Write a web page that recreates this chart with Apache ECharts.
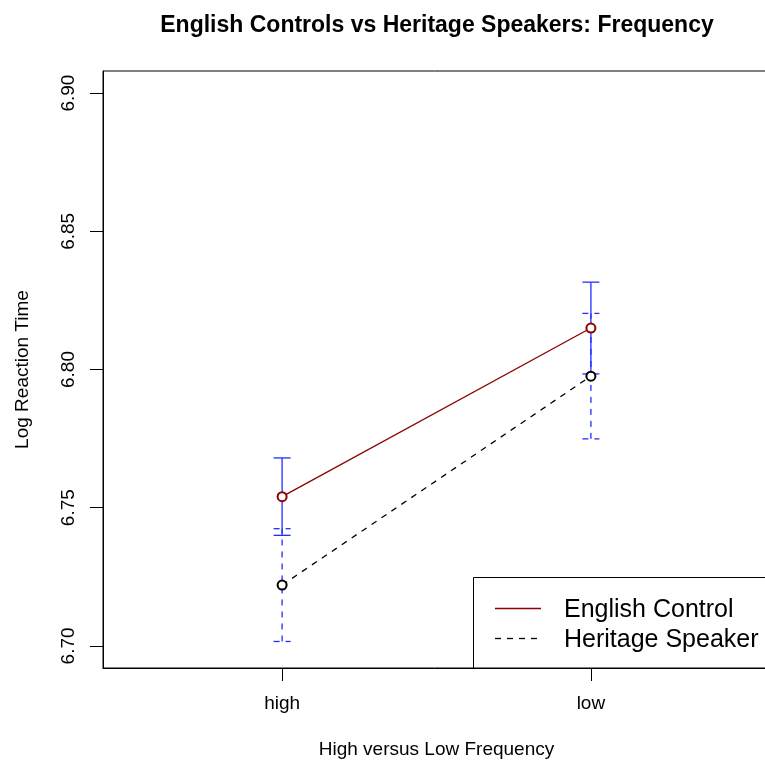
<!DOCTYPE html>
<html>
<head>
<meta charset="utf-8">
<script src="https://cdn.jsdelivr.net/npm/echarts@6/dist/echarts.min.js"></script>
<style>
html,body{margin:0;padding:0;background:#fff;}
#chart{width:765px;height:761px;}
</style>
</head>
<body>
<div id="chart"></div>
<script>
const categories = ['high', 'low'];
const xPositions = [1, 2];
const seriesNames = ['English Control', 'Heritage Speaker'];
const englishMean = [6.754, 6.815];
const englishLower = [6.740, 6.7984];
const englishUpper = [6.768, 6.8316];
const heritageMean = [6.722, 6.7976];
const heritageLower = [6.7016, 6.7749];
const heritageUpper = [6.7424, 6.8203];
const yTicks = [6.70, 6.75, 6.80, 6.85, 6.90];

const FONT = '"Liberation Sans", Arial, Helvetica, sans-serif';
const chart = echarts.init(document.getElementById('chart'), null, {renderer: 'canvas'});

function pairs(xs, ys) { return xs.map((x, i) => [x, ys[i]]); }
function errData(lo, hi) { return xPositions.map((x, i) => [x, lo[i], hi[i]]); }

function errRender(dash) {
  return function (params, api) {
    const x = api.value(0);
    const pLo = api.coord([x, api.value(1)]);
    const pHi = api.coord([x, api.value(2)]);
    const hw = 8.5;
    const style = {stroke: '#1f2fff', lineWidth: 1.3, lineDash: dash};
    return {
      type: 'group',
      children: [
        {type: 'line', shape: {x1: pLo[0], y1: pLo[1], x2: pHi[0], y2: pHi[1]}, style: style},
        {type: 'line', shape: {x1: pHi[0] - hw, y1: pHi[1], x2: pHi[0] + hw, y2: pHi[1]}, style: style},
        {type: 'line', shape: {x1: pLo[0] - hw, y1: pLo[1], x2: pLo[0] + hw, y2: pLo[1]}, style: style}
      ]
    };
  };
}

const option = {
  animation: false,
  backgroundColor: '#fff',
  title: {
    text: 'English Controls vs Heritage Speakers: Frequency',
    left: 432,
    textAlign: 'center',
    top: 9,
    textStyle: {fontFamily: FONT, fontWeight: 'bold', fontSize: 23, color: '#000'}
  },
  grid: {
    left: 103, top: 71, width: 667, height: 597,
    outerBoundsMode: 'none',
    containLabel: false,
    show: true, borderColor: '#000', borderWidth: 1, backgroundColor: 'transparent'
  },
  xAxis: {
    type: 'value',
    min: 0.42, max: 2.58,
    name: 'High versus Low Frequency',
    nameLocation: 'middle',
    nameGap: 72,
    nameTextStyle: {fontFamily: FONT, fontSize: 19, color: '#000'},
    axisLine: {show: true, onZero: false, lineStyle: {color: '#000', width: 1}},
    axisTick: {show: true, inside: false, length: 13, customValues: xPositions, lineStyle: {color: '#000'}},
    axisLabel: {
      show: true, customValues: xPositions, margin: 26,
      fontFamily: FONT, fontSize: 19, color: '#000',
      formatter: function (v) { const i = xPositions.indexOf(Math.round(v)); return i >= 0 ? categories[i] : ''; }
    },
    splitLine: {show: false}
  },
  yAxis: {
    type: 'value',
    min: 6.692, max: 6.908,
    name: 'Log Reaction Time',
    nameLocation: 'middle',
    nameGap: 71,
    nameRotate: 90,
    nameTextStyle: {fontFamily: FONT, fontSize: 19, color: '#000'},
    axisLine: {show: true, onZero: false, lineStyle: {color: '#000', width: 1}},
    axisTick: {show: true, inside: false, length: 13, customValues: yTicks, lineStyle: {color: '#000'}},
    axisLabel: {
      show: true, customValues: yTicks, rotate: 90, margin: 25,
      fontFamily: FONT, fontSize: 19, color: '#000',
      formatter: function (v) { return v.toFixed(2); }
    },
    splitLine: {show: false}
  },
  series: [
    {
      name: seriesNames[0],
      type: 'line',
      data: pairs(xPositions, englishMean),
      symbol: 'emptyCircle', symbolSize: 9,
      lineStyle: {color: '#8B0000', width: 1.3},
      itemStyle: {color: '#8B0000', borderWidth: 1.5},
      z: 5
    },
    {
      name: seriesNames[1],
      type: 'line',
      data: pairs(xPositions, heritageMean),
      symbol: 'emptyCircle', symbolSize: 9,
      lineStyle: {color: '#000', width: 1.3, type: [6, 6]},
      itemStyle: {color: '#000', borderWidth: 1.5},
      z: 5
    },
    {
      name: seriesNames[0] + ' SE',
      type: 'custom',
      data: errData(englishLower, englishUpper),
      renderItem: errRender(null),
      z: 3
    },
    {
      name: seriesNames[1] + ' SE',
      type: 'custom',
      data: errData(heritageLower, heritageUpper),
      renderItem: errRender([6, 6]),
      z: 3
    }
  ],
  graphic: [
    {
      type: 'group', z: 100,
      children: [
        {type: 'rect', shape: {x: 473.5, y: 577.5, width: 320, height: 90.5}, style: {fill: '#fff', stroke: '#000', lineWidth: 1}},
        {type: 'line', shape: {x1: 495, y1: 608.5, x2: 541, y2: 608.5}, style: {stroke: '#8B0000', lineWidth: 1.3}},
        {type: 'line', shape: {x1: 495, y1: 638.5, x2: 541, y2: 638.5}, style: {stroke: '#000', lineWidth: 1.3, lineDash: [6, 6]}},
        {type: 'text', style: {x: 564, y: 610, text: seriesNames[0], font: '25px ' + FONT, fill: '#000', textVerticalAlign: 'middle'}},
        {type: 'text', style: {x: 564, y: 640, text: seriesNames[1], font: '25px ' + FONT, fill: '#000', textVerticalAlign: 'middle'}}
      ]
    }
  ]
};
chart.setOption(option);
</script>
</body>
</html>
